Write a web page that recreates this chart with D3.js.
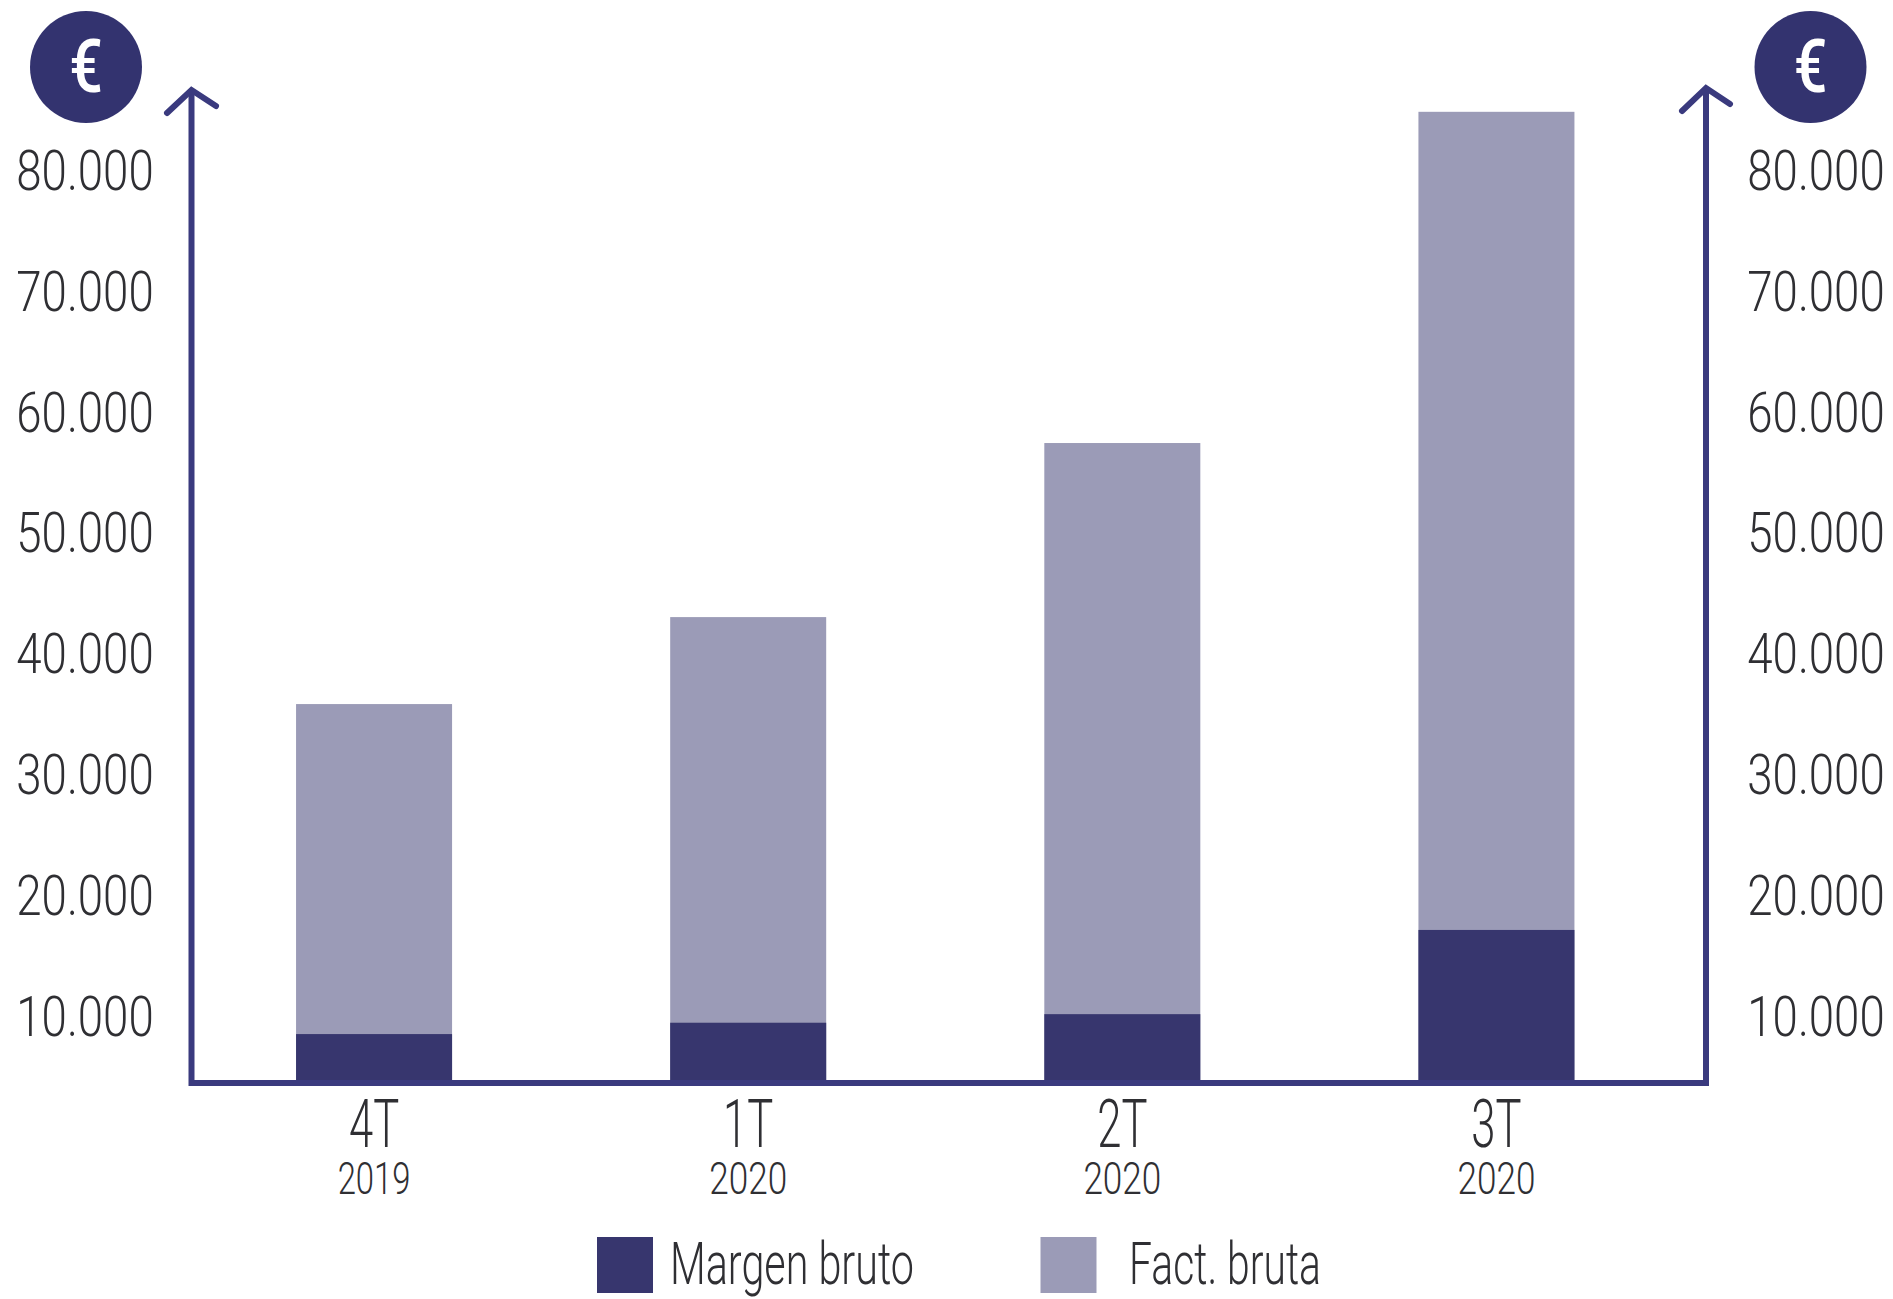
<!DOCTYPE html>
<html>
<head>
<meta charset="utf-8">
<script src="https://cdnjs.cloudflare.com/ajax/libs/d3/7.8.5/d3.min.js"></script>
<style>
html,body{margin:0;padding:0;background:#fff;overflow:hidden}
svg{display:block}
text{font-family:Roboto,"Liberation Sans",sans-serif;font-weight:300;fill:#2f2f33}
</style>
</head>
<body>
<svg id="chart" width="1893" height="1299"></svg>
<script>
const quarters = ["4T","1T","2T","3T"];
const years = ["2019","2020","2020","2020"];
const factBruta = [35870,43070,57480,84900];
const margenBruto = [8550,9490,10200,17170];
const tickValues = [10000,20000,30000,40000,50000,60000,70000,80000];
const legendLabels = ["Margen bruto","Fact. bruta"];
const axisFloor = 4500;
const DARK="#37366e", LIGHT="#9b9bb7", AXIS="#3a3a7e";

const svg=d3.select("#chart");
const x=d3.scaleBand().domain(d3.range(quarters.length)).range([187,1683.5]).paddingInner(0.583).paddingOuter(0.2915);
const y=d3.scaleLinear().domain([axisFloor,80000]).range([1083,171]);
const fmt=v=>d3.format(",")(v).replace(",",".");

// bars
svg.selectAll(".fact").data(factBruta).join("rect").attr("class","fact")
  .attr("x",(d,i)=>x(i)).attr("width",x.bandwidth()).attr("y",d=>y(d)).attr("height",d=>y(axisFloor)-y(d)).attr("fill",LIGHT);
svg.selectAll(".marg").data(margenBruto).join("rect").attr("class","marg")
  .attr("x",(d,i)=>x(i)).attr("width",x.bandwidth()).attr("y",d=>y(d)).attr("height",d=>y(axisFloor)-y(d)).attr("fill",DARK);

// value axes
function valueAxis(gen,tx,dx){
  const g=svg.append("g").attr("transform",`translate(${tx},0)`).call(gen.scale(y).tickValues(tickValues).tickSize(0).tickFormat(fmt));
  g.select(".domain").remove();
  g.selectAll("text").attr("x",0).attr("dy",".33em").attr("text-anchor","middle")
   .style("font-size","56px").style("font-family",'Roboto,"Liberation Sans",sans-serif')
   .attr("transform",`translate(${dx},0) scale(.815,1)`);
}
valueAxis(d3.axisLeft(),192,-107);
valueAxis(d3.axisRight(),1706,110);

// axis lines with arrows
const line=d3.line();
const SW=6;
svg.append("path").attr("d",line([[191.5,90],[191.5,1083],[1706,1083],[1706,90]])).attr("fill","none").attr("stroke",AXIS).attr("stroke-width",SW).attr("stroke-linejoin","miter");
svg.append("path").attr("d",line([[167,113],[191.5,90],[216,106]])).attr("fill","none").attr("stroke",AXIS).attr("stroke-width",SW).attr("stroke-linecap","round");
svg.append("path").attr("d",line([[1682,111],[1706,88],[1730,104]])).attr("fill","none").attr("stroke",AXIS).attr("stroke-width",SW).attr("stroke-linecap","round");

// euro badges
[86,1810.5].forEach(cx=>{
  svg.append("circle").attr("cx",cx).attr("cy",67).attr("r",56).attr("fill","#33336f");
  svg.append("text").attr("text-anchor","middle").attr("transform",`translate(${cx},92) scale(.8,1)`)
    .attr("font-size",74).style("font-weight",500).style("fill","#fff").text("€");
});

// category labels
const cat=svg.selectAll(".cat").data(quarters).join("g").attr("class","cat")
  .attr("transform",(d,i)=>`translate(${x(i)+x.bandwidth()/2},0)`);
cat.append("text").attr("text-anchor","middle").attr("font-size",66).attr("transform","translate(0,1147) scale(.66,1)").text(d=>d);
cat.append("text").attr("text-anchor","middle").attr("font-size",45).attr("transform",(d,i)=>`translate(0,1194) scale(${i?.78:.73},1)`).text((d,i)=>years[i]);

// legend
const legendX=[597,1040.5], legendW=[56,56], legendT=[670,1129], legendC=[DARK,LIGHT], legendS=[244,192];
const lg=svg.selectAll(".lg").data(legendLabels).join("g").attr("class","lg");
lg.append("rect").attr("x",(d,i)=>legendX[i]).attr("y",1237).attr("width",(d,i)=>legendW[i]).attr("height",56).attr("fill",(d,i)=>legendC[i]);
lg.append("text").attr("x",(d,i)=>legendT[i]).attr("y",1284).attr("font-size",60)
  .attr("textLength",(d,i)=>legendS[i]).attr("lengthAdjust","spacingAndGlyphs").text(d=>d);
</script>
</body>
</html>
